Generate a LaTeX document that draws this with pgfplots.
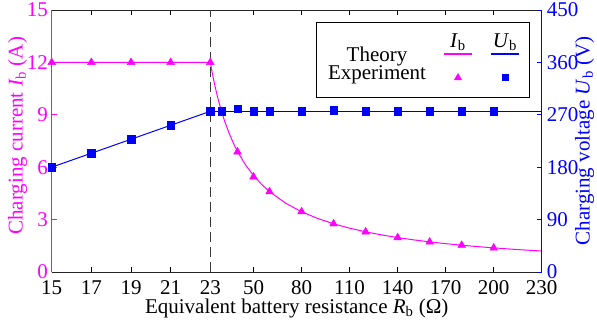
\documentclass[border=0pt]{standalone}
\usepackage{pgfplots}
\pgfplotsset{compat=1.18}
\usepackage{fontspec}
\setmainfont{Liberation Serif}
\definecolor{mag}{RGB}{255,0,255}
\definecolor{blu}{RGB}{0,0,255}
\definecolor{navy}{RGB}{0,0,175}
\newcommand{\fs}{\fontsize{21}{24}\selectfont}
\begin{document}
\begin{tikzpicture}
\begin{axis}[
  scale only axis, width=490pt, height=262pt,
  x coord trafo/.code={\pgfmathparse{(min(#1,23)-15)/2+max(#1-23,0)*0.04038}},
  xmin=15, xmax=230,
  xtick={15,17,19,21,23,50,80,110,140,170,200,230},
  xticklabels={15,17,19,21,23,50,80,110,140,170,200,230},
  ymin=0, ymax=15, ytick={0,3,...,15},
  axis x line*=box, axis y line*=left,
  tick align=inside, major tick length=5pt,
  x axis line style={black!85, line width=0.9pt, -},
  y axis line style={mag, line width=0.9pt, -},
  xtick style={black, line width=0.8pt},
  ytick style={mag, line width=0.8pt},
  tick label style={font=\fs, inner sep=0pt},
  yticklabel style={text=mag, anchor=east, xshift=-3.7pt},
  xticklabel style={anchor=base, yshift=-22.7pt},
  /pgf/number format/assume math mode=true,
  xlabel={Equivalent battery resistance \textit{R}\textsubscript{b} (Ω)},
  ylabel={Charging current \textit{I}\textsubscript{b} (A)},
  label style={font=\fs, inner sep=0pt},
  xlabel style={at={([yshift=-41.7pt]axis description cs:0.5,0)}, anchor=base},
  ylabel style={text=mag, at={([xshift=-29pt]axis description cs:0,0.52)}, anchor=base},
]
% theory I_b
\addplot[mag, line width=1pt] coordinates {
(15,12)(17,12)(19,12)(21,12)(23,12)(24,11.5)(25,11.04)(26,10.615)(27,10.222)(28,9.857)(30,9.2)(32,8.625)(35,7.886)(38,7.263)(40,6.9)(45,6.133)(50,5.52)(55,5.018)(60,4.6)(70,3.943)(80,3.45)(90,3.067)(100,2.76)(110,2.509)(120,2.3)(130,2.123)(140,1.971)(150,1.84)(160,1.725)(170,1.624)(180,1.533)(190,1.453)(200,1.38)(215,1.284)(230,1.2)};
% experiment I_b
\addplot[only marks, mark=triangle*, mark size=4.5pt, mag] coordinates {
(15,12)(17,12)(19,12)(21,12)(23,12)(40,6.88)(50,5.45)(60,4.6)(80,3.45)(100,2.76)(120,2.3)(140,1.97)(160,1.72)(180,1.53)(200,1.38)(230,1.2)};
\addplot[black!78, line width=1.5pt, dash pattern=on 10pt off 5pt] coordinates {(23,0)(23,15)};
\end{axis}
\begin{axis}[
  name=ax2,
  scale only axis, width=490pt, height=262pt,
  x coord trafo/.code={\pgfmathparse{(min(#1,23)-15)/2+max(#1-23,0)*0.04038}},
  xmin=15, xmax=230,
  axis x line=none, axis y line*=right,
  ymin=0, ymax=450, ytick={0,90,...,450},
  tick align=inside, major tick length=5pt,
  y axis line style={blu, line width=0.9pt, -},
  ytick style={blu, line width=0.8pt},
  tick label style={font=\fs, inner sep=0pt},
  yticklabel style={text=blu, anchor=west, xshift=5pt},
  /pgf/number format/assume math mode=true,
  ylabel={Charging voltage \textit{U}\textsubscript{b} (V)},
  label style={font=\fs, inner sep=0pt},
  ylabel style={text=blu, at={([xshift=48pt]axis description cs:1,0.5)}, anchor=base},
]
\addplot[blu, line width=1pt] coordinates {(15,180)(17,204)(19,228)(21,252)(23,276)};
\addplot[navy, line width=1.6pt] coordinates {(23,276)(230,276)};
\addplot[only marks, mark=square*, mark size=3.7pt, blu] coordinates {
(15,180)(17,204)(19,228)(21,252)(23,276)(30,276)(40,280)(50,276)(60,276)(80,276)(100,278)(120,276)(140,276)(160,276)(180,276)(200,276)(230,276)};
\coordinate (tl) at (rel axis cs:0,1);
\end{axis}
% legend box (coordinates in pt from the axis' top-left corner, y downward)
\begin{scope}[shift={(tl)}, x=1pt, y=-1pt, font=\fs]
  \draw[black, line width=0.8pt, fill=white] (264.3,12) rectangle (477.3,87);
  \node[anchor=base, inner sep=0pt] at (325.3,51) {Theory};
  \node[anchor=base, inner sep=0pt] at (325.3,69.5) {Experiment};
  \node[anchor=base, inner sep=0pt] at (406.3,37) {\textit{I}\textsubscript{b}};
  \node[anchor=base, inner sep=0pt] at (453.3,37) {\textit{U}\textsubscript{b}};
  \draw[mag, line width=1.1pt] (392.3,44) -- (420.3,44);
  \draw[blu, line width=1.1pt] (439.3,44) -- (467.3,44);
  \fill[mag] (406.3,63) -- (402.3,70) -- (410.3,70) -- cycle;
  \fill[blu] (449.8,63.5) rectangle (456.8,70.5);
\end{scope}
\path[draw=none] ([xshift=-51.7pt,yshift=-49.3pt]ax2.south west) rectangle ([xshift=55.3pt,yshift=10pt]ax2.north east);
\end{tikzpicture}
\end{document}
